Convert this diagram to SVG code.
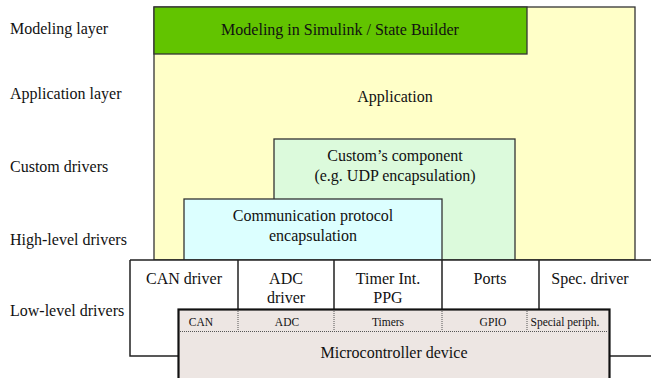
<svg xmlns="http://www.w3.org/2000/svg" width="651" height="378" viewBox="0 0 651 378">
  <style>
    .box { stroke: #333; stroke-width: 1.3; }
    .div { stroke: #222; stroke-width: 1.5; fill: none; }
    .dot { stroke: #555; stroke-width: 1; stroke-dasharray: 1 1; fill: none; }
  </style>
  <rect width="651" height="378" fill="#ffffff"/>

  <!-- layer captions -->
  <g id="captions">
    <text font-family="Liberation Serif" font-size="16" fill="#111" x="10" y="34">Modeling layer</text>
    <text font-family="Liberation Serif" font-size="16" fill="#111" x="10" y="99">Application layer</text>
    <text font-family="Liberation Serif" font-size="16" fill="#111" x="10" y="172">Custom drivers</text>
    <text font-family="Liberation Serif" font-size="16" fill="#111" x="10" y="245">High-level drivers</text>
    <text font-family="Liberation Serif" font-size="16" fill="#111" x="10" y="316">Low-level drivers</text>
  </g>

  <g id="application">
    <rect class="box" x="154" y="7" width="481" height="253" fill="#ffffc8"/>
    <text font-family="Liberation Serif" font-size="16" fill="#111" text-anchor="middle" x="395" y="102">Application</text>
  </g>

  <g id="modeling">
    <rect class="box" x="154" y="7" width="373" height="47" fill="#62c400"/>
    <text font-family="Liberation Serif" font-size="16" fill="#111" text-anchor="middle" x="340" y="35">Modeling in Simulink / State Builder</text>
  </g>

  <g id="custom-component">
    <rect class="box" x="274" y="139" width="241" height="121" fill="#dcfadc"/>
    <text font-family="Liberation Serif" font-size="16" fill="#111" text-anchor="middle" x="395" y="161">Custom’s component</text>
    <text font-family="Liberation Serif" font-size="16" fill="#111" text-anchor="middle" x="395" y="181">(e.g. UDP encapsulation)</text>
  </g>

  <g id="comm-protocol">
    <rect class="box" x="184" y="199" width="258" height="61" fill="#dcffff"/>
    <text font-family="Liberation Serif" font-size="16" fill="#111" text-anchor="middle" x="313" y="221">Communication protocol</text>
    <text font-family="Liberation Serif" font-size="16" fill="#111" text-anchor="middle" x="313" y="241">encapsulation</text>
  </g>

  <!-- low-level driver row -->
  <g id="drivers">
    <rect x="130" y="260" width="525" height="96" fill="#ffffff"/>
    <path class="div" d="M130 260 H652 M130 260 V356 H180 M608 356 H652 M238 260 V310 M334 260 V310 M442 260 V310 M539 260 V310"/>
    <text font-family="Liberation Serif" font-size="16" fill="#111" text-anchor="middle" x="184" y="284">CAN driver</text>
    <text font-family="Liberation Serif" font-size="16" fill="#111" text-anchor="middle" x="286" y="284">ADC</text>
    <text font-family="Liberation Serif" font-size="16" fill="#111" text-anchor="middle" x="286" y="303">driver</text>
    <text font-family="Liberation Serif" font-size="16" fill="#111" text-anchor="middle" x="388" y="284">Timer Int.</text>
    <text font-family="Liberation Serif" font-size="16" fill="#111" text-anchor="middle" x="388" y="303">PPG</text>
    <text font-family="Liberation Serif" font-size="16" fill="#111" text-anchor="middle" x="490" y="284">Ports</text>
    <text font-family="Liberation Serif" font-size="16" fill="#111" text-anchor="middle" x="590" y="284">Spec. driver</text>
  </g>

  <g id="microcontroller">
    <rect x="178.5" y="309.5" width="431" height="72" fill="#ede6e3" stroke="#111" stroke-width="2.2"/>
    <path class="dot" d="M180 331.5 H608 M238 311 V331 M334 311 V331 M442 311 V331 M527 311 V331"/>
    <text font-family="Liberation Serif" font-size="11.5" fill="#111" text-anchor="middle" x="201" y="326">CAN</text>
    <text font-family="Liberation Serif" font-size="11.5" fill="#111" text-anchor="middle" x="287" y="326">ADC</text>
    <text font-family="Liberation Serif" font-size="11.5" fill="#111" text-anchor="middle" x="388" y="326">Timers</text>
    <text font-family="Liberation Serif" font-size="11.5" fill="#111" text-anchor="middle" x="493" y="326">GPIO</text>
    <text font-family="Liberation Serif" font-size="11.5" fill="#111" text-anchor="middle" x="565" y="326">Special periph.</text>
    <text font-family="Liberation Serif" font-size="16" fill="#111" text-anchor="middle" x="394" y="358">Microcontroller device</text>
  </g>
</svg>
